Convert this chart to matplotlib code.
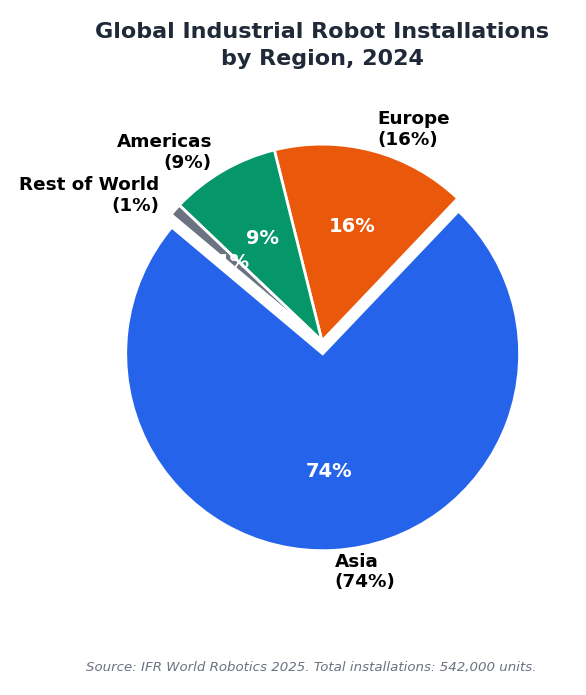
import matplotlib
matplotlib.use("Agg")
import matplotlib.pyplot as plt

# region shares of 2024 installations (percent)
regions = ["Asia", "Europe", "Americas", "Rest of World"]
shares = [74, 16, 9, 1]
colors = ["#2563eb", "#ea580c", "#059669", "#6b7280"]
explode = [0.065, 0, 0, 0]

labels = [r + "\n(" + str(s) + "%)" for r, s in zip(regions, shares)]

fig = plt.figure(figsize=(5.86, 6.95), dpi=100)
ax = fig.add_axes([0.1314, 0.1568, 0.836, 0.705])

wedges, texts, autotexts = ax.pie(
    shares,
    labels=labels,
    colors=colors,
    explode=explode,
    startangle=140,
    radius=1.005,
    autopct="%1.0f%%",
    pctdistance=0.6,
    labeldistance=1.11,
    wedgeprops=dict(edgecolor="white", linewidth=2),
)

for t in texts:
    t.set_fontsize(13.2)
    t.set_fontweight("bold")
    t.set_color("black")

for t in autotexts:
    t.set_fontsize(14)
    t.set_fontweight("bold")
    t.set_color("white")

fig.text(0.55, 0.968, "Global Industrial Robot Installations\nby Region, 2024",
         ha="center", va="top", fontsize=16, fontweight="bold",
         color="#1f2937", linespacing=1.4)

fig.text(0.531, 0.04, "Source: IFR World Robotics 2025. Total installations: 542,000 units.",
         ha="center", va="center", fontsize=9.6, style="italic", color="#6b7280")

fig.savefig("out.png", dpi=100)
